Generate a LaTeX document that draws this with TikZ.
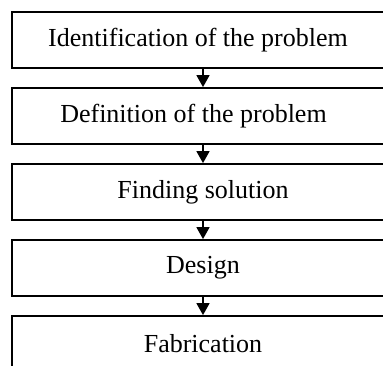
\documentclass[tikz,border=0pt]{standalone}
\usepackage{fontspec}
\setmainfont{Liberation Serif}
\usepackage{tikz}
\usetikzlibrary{arrows.meta}

\begin{document}
\begin{tikzpicture}[x=1pt, y=-1pt,
    stagebox/.style={draw, line width=1.8pt, minimum width=382pt, minimum height=56pt,
                     inner sep=0pt, font=\fontsize{26}{30}\selectfont},
    flowarrow/.style={line width=1.6pt, -{Triangle[length=12pt, width=13pt]}}]
            \useasboundingbox (0,0) rectangle (383,365);
            \clip (0,0) rectangle (383,365);
            \node[stagebox] (ident)  at (203, 40)  {Identification of the problem\hspace*{10pt}};
            \node[stagebox] (define) at (203, 116) {Definition of the problem\hspace*{19pt}};
            \node[stagebox] (solve)  at (203, 192) {Finding solution};
            \node[stagebox] (design) at (203, 268) {Design};
            \node[stagebox] (fabric) at (203, 344) {Fabrication};
            \draw[flowarrow] (ident.south)  -- (define.north);
            \draw[flowarrow] (define.south) -- (solve.north);
            \draw[flowarrow] (solve.south)  -- (design.north);
            \draw[flowarrow] (design.south) -- (fabric.north);
        \end{tikzpicture}
\end{document}
